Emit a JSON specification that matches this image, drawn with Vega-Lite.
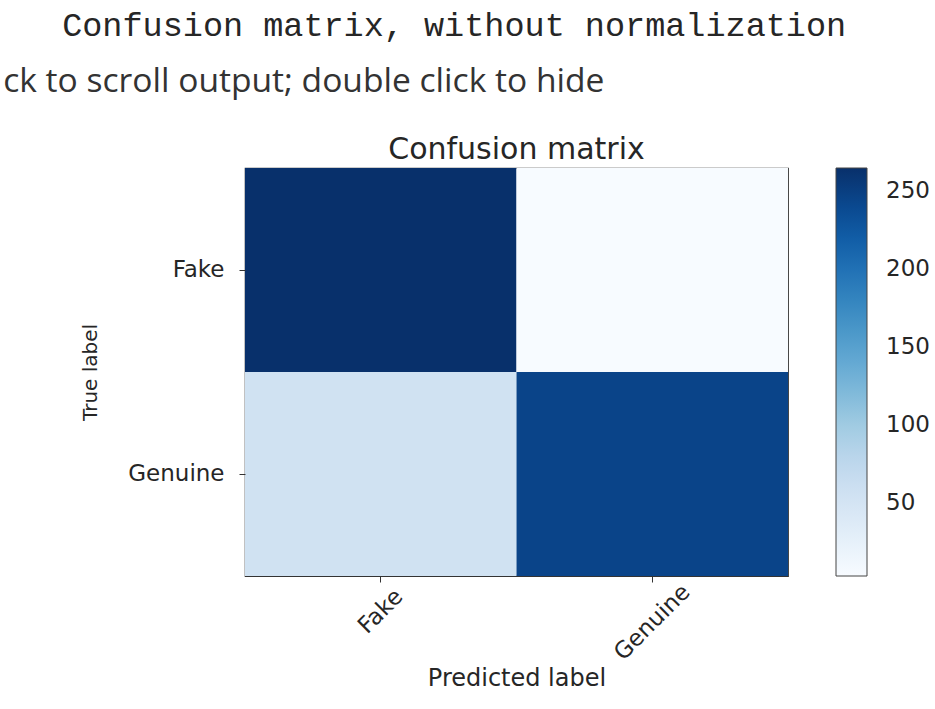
{
  "$schema": "https://vega.github.io/schema/vega-lite/v6.json",
  "background": "white",
  "padding": {"left": 3, "top": 9, "right": 5, "bottom": 5},
  "title": {
    "text": "Confusion matrix, without normalization",
    "font": "Liberation Mono",
    "fontSize": 33.5,
    "fontWeight": "normal",
    "color": "#262626",
    "anchor": "start",
    "frame": "bounds",
    "dx": 59,
    "offset": 21
  },
  "datasets": {
    "cm": [
      {"actual": "Fake", "predicted": "Fake", "count": 265},
      {"actual": "Fake", "predicted": "Genuine", "count": 3},
      {"actual": "Genuine", "predicted": "Fake", "count": 55},
      {"actual": "Genuine", "predicted": "Genuine", "count": 245}
    ]
  },
  "vconcat": [
    {
      "title": {
        "text": "ck to scroll output; double click to hide",
        "font": "Open Sans",
        "fontSize": 33.6,
        "fontWeight": "normal",
        "color": "#333333",
        "anchor": "start",
        "frame": "bounds",
        "dx": -77,
        "offset": 36
      },
      "vconcat": [
        {
          "title": {
            "text": "Confusion matrix",
            "font": "DejaVu Sans",
            "fontSize": 30,
            "fontWeight": "normal",
            "color": "#262626",
            "anchor": "middle",
            "frame": "group",
            "offset": 3
          },
          "width": 543,
          "height": 408,
          "data": {"name": "cm"},
          "mark": {"type": "rect"},
          "encoding": {
            "x": {
              "field": "predicted",
              "type": "nominal",
              "sort": ["Fake", "Genuine"],
              "title": "Predicted label",
              "scale": {"paddingInner": 0, "paddingOuter": 0},
              "axis": {
                "labelAngle": -45,
                "labelAlign": "center",
                "labelBaseline": "middle",
                "labelPadding": {"condition": {"test": "datum.value === 'Genuine'", "value": 40}, "value": 29},
                "labelFontSize": 23,
                "labelFont": "DejaVu Sans",
                "labelColor": "#262626",
                "labelOverlap": false,
                "labelBound": false,
                "labelFlush": false,
                "tickSize": 6,
                "tickColor": "#333333",
                "domain": false,
                "titleFont": "DejaVu Sans",
                "titleFontSize": 24,
                "titleFontWeight": "normal",
                "titleColor": "#262626",
                "titlePadding": 2
              }
            },
            "y": {
              "field": "actual",
              "type": "nominal",
              "sort": ["Fake", "Genuine"],
              "title": "True label",
              "scale": {"paddingInner": 0, "paddingOuter": 0},
              "axis": {
                "labelAngle": 0,
                "labelPadding": 15,
                "labelFontSize": 23,
                "labelFont": "DejaVu Sans",
                "labelColor": "#262626",
                "tickSize": 6,
                "tickColor": "#333333",
                "domain": false,
                "titleFont": "DejaVu Sans",
                "titleFontSize": 20,
                "titleFontWeight": "normal",
                "titleColor": "#262626",
                "titlePadding": 27
              }
            },
            "color": {
              "field": "count",
              "type": "quantitative",
              "scale": {
                "domain": [3, 35.75, 68.5, 101.25, 134, 166.75, 199.5, 232.25, 265],
                "range": ["#f7fbff", "#deebf7", "#c6dbef", "#9ecae1", "#6baed6", "#4292c6", "#2171b5", "#08519c", "#08306b"]
              },
              "legend": {
                "title": null,
                "values": [50, 100, 150, 200, 250],
                "gradientLength": 408,
                "gradientThickness": 31,
                "gradientStrokeColor": "#444444",
                "gradientStrokeWidth": 1,
                "labelFont": "DejaVu Sans",
                "labelFontSize": 23,
                "labelColor": "#262626",
                "labelOffset": 19,
                "labelOverlap": false,
                "offset": 47,
                "padding": 0
              }
            }
          }
        }
      ]
    }
  ],
  "config": {
    "view": {"stroke": "#333333", "strokeWidth": 1.2},
    "concat": {"spacing": 0}
  }
}
